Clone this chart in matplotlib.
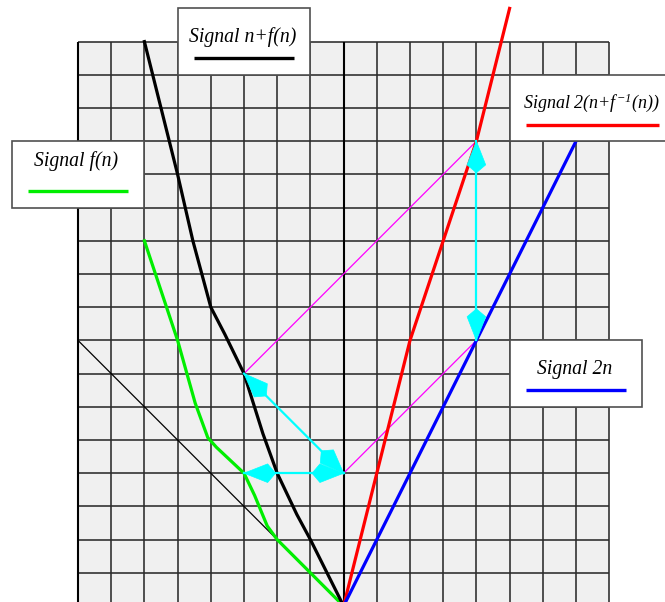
import matplotlib
matplotlib.use("Agg")
import matplotlib.pyplot as plt
from matplotlib.patches import Rectangle, Polygon
import numpy as np

plt.rcParams['mathtext.fontset'] = 'custom'
plt.rcParams['mathtext.it'] = 'Liberation Serif:italic'
plt.rcParams['mathtext.rm'] = 'Liberation Serif:italic'

# grid lines (cell units)
grid_x = list(range(-8, 9))
grid_y = list(range(0, 18))

# reference diagonal y = -x
diag_x = [-8, 0]
diag_y = [8, 0]

# Signal f(n)
fn_x = [-6, -5, -4.47, -4.09, -3.83, -3, -2.68, -2.3, -2, -1, 0]
fn_y = [11, 8, 6.11, 5.07, 4.78, 4, 3.33, 2.41, 2, 1, 0]

# Signal n+f(n)
nfn_x = [-6, -5, -4.54, -4, -3.58, -3, -2.43, -2, -1.41, -1, 0]
nfn_y = [17, 13, 11, 9, 8.19, 7, 5.19, 4, 2.76, 2, 0]

# Signal 2(n+f^-1(n))
inv_x = [0, 0.5, 1, 2, 3, 4, 5]
inv_y = [0, 2, 4, 8, 11, 14, 18]

# Signal 2n
dbl_x = [0, 7]
dbl_y = [0, 14]

# construction lines (magenta)
mag_x0 = [-3, 0]
mag_y0 = [7, 4]
mag_x1 = [4, 4]
mag_y1 = [14, 8]

# double-headed arrows (cyan)
arr_x0 = [-3, 0, 4]
arr_y0 = [7, 4, 14]
arr_x1 = [0, -3, 4]
arr_y1 = [4, 4, 8]

# legend boxes: label, colour, lower-left corner, width, text baseline offset, size
leg_labels = ["Signal n+f(n)", r"Signal 2(n+$f^{-1}$(n))", "Signal f(n)", "Signal 2n"]
leg_colors = ["black", "#ff0000", "#00ee00", "#0000ff"]
leg_x = [-5, 5, -10, 5]
leg_y = [16, 14, 12, 6]
leg_w = [4, 5, 4, 4]
leg_txt = [1.0, 1.0, 1.25, 1.0]
leg_size = [14.2, 13.0, 14.2, 14.2]

cell = 33.2
fig = plt.figure(figsize=(6.65, 6.02), dpi=100)
ax = fig.add_axes([0, 0, 1, 1])
ax.set_xlim(-343.6 / cell, (665 - 343.6) / cell)
ax.set_ylim((606 - 602) / cell, 606 / cell)
ax.axis('off')

# grid background and lines
ax.add_patch(Rectangle((-8, -1), 16, 18, facecolor='#f0f0f0', edgecolor='none', zorder=0))
ax.vlines(grid_x, -1, 17, colors='#2a2a2a', linewidth=1.15, zorder=1)
ax.hlines(grid_y, -8, 8, colors='#2a2a2a', linewidth=1.15, zorder=1)
ax.vlines([0, -8], -1, 17, colors='black', linewidth=1.5, zorder=1)

ax.plot(diag_x, diag_y, color='black', linewidth=0.9, zorder=2)

for x0, y0, x1, y1 in zip(mag_x0, mag_y0, mag_x1, mag_y1):
    ax.plot([x0, x1], [y0, y1], color='#ff00ff', linewidth=0.9, zorder=2)

ax.plot(fn_x, fn_y, color='#00ee00', linewidth=2.3, zorder=3, solid_joinstyle='round')
ax.plot(nfn_x, nfn_y, color='black', linewidth=2.3, zorder=3, solid_joinstyle='round')
ax.plot(inv_x, inv_y, color='#ff0000', linewidth=2.3, zorder=3, solid_joinstyle='round')
ax.plot(dbl_x, dbl_y, color='#0000ff', linewidth=2.3, zorder=3)


def kite(tip, tail, length=0.95, half=0.28, wide=0.75):
    tip = np.asarray(tip, float)
    d = np.asarray(tail, float) - tip
    u = d / np.hypot(*d)
    v = np.array([-u[1], u[0]])
    pts = [tip,
           tip + u * length * wide + v * half,
           tip + u * length,
           tip + u * length * wide - v * half]
    ax.add_patch(Polygon(pts, closed=True, facecolor='#00ffff',
                         edgecolor='#00ffff', linewidth=0.5, zorder=4))


for x0, y0, x1, y1 in zip(arr_x0, arr_y0, arr_x1, arr_y1):
    ax.plot([x0, x1], [y0, y1], color='#00ffff', linewidth=1.6, zorder=4)
    kite((x0, y0), (x1, y1))
    kite((x1, y1), (x0, y0))

# legend boxes
for lab, col, bx, by, bw, tb, fs in zip(leg_labels, leg_colors, leg_x, leg_y,
                                        leg_w, leg_txt, leg_size):
    ax.add_patch(Rectangle((bx, by), bw, 2, facecolor='white', edgecolor='#505050',
                           linewidth=1.2, zorder=5, clip_on=False))
    ax.text(bx + bw / 2 - 0.05, by + tb, lab, ha='center', va='baseline',
            family='Liberation Serif', style='italic', fontsize=fs, zorder=6)
    ax.plot([bx + 0.5, bx + bw - 0.5], [by + 0.5, by + 0.5], color=col,
            linewidth=2.4, zorder=6, solid_capstyle='butt')

fig.savefig('out.png', dpi=100)
